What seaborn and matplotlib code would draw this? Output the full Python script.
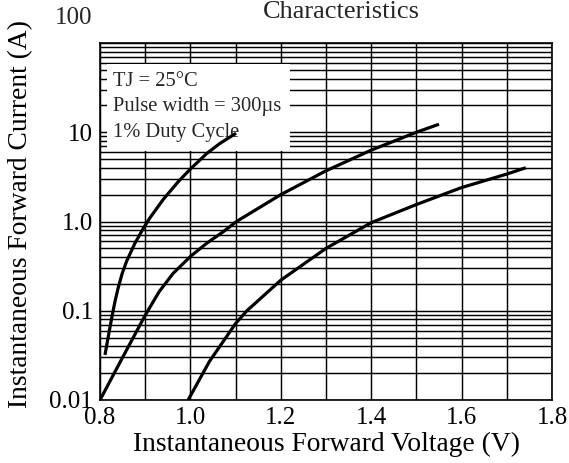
import matplotlib
matplotlib.use("Agg")
import matplotlib.pyplot as plt
import seaborn as sns
import pandas as pd
from matplotlib.ticker import LogLocator, NullFormatter, FixedLocator
from matplotlib.patches import Rectangle

# ---- data ----
v1 = [0.811, 0.822, 0.828, 0.833, 0.840, 0.849, 0.859, 0.877, 0.896, 0.910,
      0.940, 0.973, 1.000, 1.036, 1.065, 1.101]
i1 = [0.032, 0.065, 0.094, 0.126, 0.179, 0.261, 0.36, 0.567, 0.84, 1.09,
      1.77, 2.79, 3.87, 5.77, 7.48, 9.75]

v2 = [0.80, 0.85, 0.90, 0.931, 0.962, 1.001, 1.036, 1.073, 1.102, 1.20,
      1.30, 1.40, 1.50, 1.55]
i2 = [0.010, 0.030, 0.089, 0.164, 0.263, 0.41, 0.57, 0.77, 1.0, 2.0,
      3.7, 6.3, 10.0, 12.3]

v3 = [0.995, 1.042, 1.10, 1.125, 1.20, 1.30, 1.40, 1.50, 1.60, 1.70, 1.742]
i3 = [0.010, 0.027, 0.072, 0.10, 0.22, 0.50, 0.97, 1.55, 2.4, 3.4, 4.0]

xticks = [0.8, 1.0, 1.2, 1.4, 1.6, 1.8]
xticklabels = ["0.8", "1.0", "1.2", "1.4", "1.6", "1.8"]
yticks = [0.01, 0.1, 1, 10]
yticklabels = ["0.01", "0.1", "1.0", "10"]
top_label = "100"
note_lines = ["TJ = 25°C", "Pulse width = 300µs", "1% Duty Cycle"]
title = "Characteristics"
xlabel = "Instantaneous Forward Voltage (V)"
ylabel = "Instantaneous Forward Current (A)"

sns.set_theme(style="white")
plt.rcParams["font.family"] = ["Liberation Serif", "DejaVu Serif"]

fig = plt.figure(figsize=(5.69, 4.63), dpi=100)
ax = fig.add_axes([100 / 569, 1 - 400 / 463, 452 / 569, 357 / 463])

df = pd.concat([
    pd.DataFrame({"V": v1, "I": i1, "s": "a"}),
    pd.DataFrame({"V": v2, "I": i2, "s": "b"}),
    pd.DataFrame({"V": v3, "I": i3, "s": "c"}),
])
sns.lineplot(data=df, x="V", y="I", hue="s", palette=["black"] * 3,
             linewidth=2.3, legend=False, ax=ax, zorder=5)
for ln in ax.lines:
    ln.set_solid_joinstyle("round")
    ln.set_solid_capstyle("butt")

ax.set_yscale("log")
ax.set_xlim(0.8, 1.8)
ax.set_ylim(0.01, 100)

ax.xaxis.set_major_locator(FixedLocator(xticks))
ax.set_xticklabels(xticklabels)
ax.xaxis.set_minor_locator(FixedLocator([0.9, 1.1, 1.3, 1.5, 1.7]))
ax.yaxis.set_major_locator(FixedLocator(yticks + [100]))
ax.set_yticklabels(yticklabels + [""])
ax.yaxis.set_minor_locator(LogLocator(base=10, subs=range(2, 10)))
ax.yaxis.set_minor_formatter(NullFormatter())

ax.grid(True, which="both", color="black", linewidth=1.05)
ax.set_axisbelow(True)
for sp in ax.spines.values():
    sp.set_color("black")
    sp.set_linewidth(1.2)

ax.tick_params(axis="both", which="both", length=0, labelsize=18, colors="black")
ax.tick_params(axis="y", pad=5)
ax.tick_params(axis="x", pad=5)

ax.text(-0.018, 1.07, top_label, transform=ax.transAxes, ha="right", va="center",
        fontsize=18, clip_on=False)

ax.set_xlabel(xlabel, fontsize=19.8, color="black")
ax.set_ylabel(ylabel, fontsize=19.8, color="black")
ax.xaxis.set_label_coords(0.5, -0.09)
ax.yaxis.set_label_coords(-0.148, 0.52)

# white note box over the grid
box = Rectangle((0.815, 6.15), 1.22 - 0.815, 58.5 - 6.15, facecolor="white",
                edgecolor="none", zorder=3)
ax.add_patch(box)
for k, line in enumerate(note_lines):
    ax.text((113 - 100) / 452, (400 - (81 + 25.5 * k)) / 357, line,
            transform=ax.transAxes, ha="left", va="center", fontsize=14.8, zorder=4)

fig.text(341 / 569, 1 - 12 / 463, title, ha="center", va="center", fontsize=19)

fig.savefig("out.png", dpi=100, facecolor="white")
